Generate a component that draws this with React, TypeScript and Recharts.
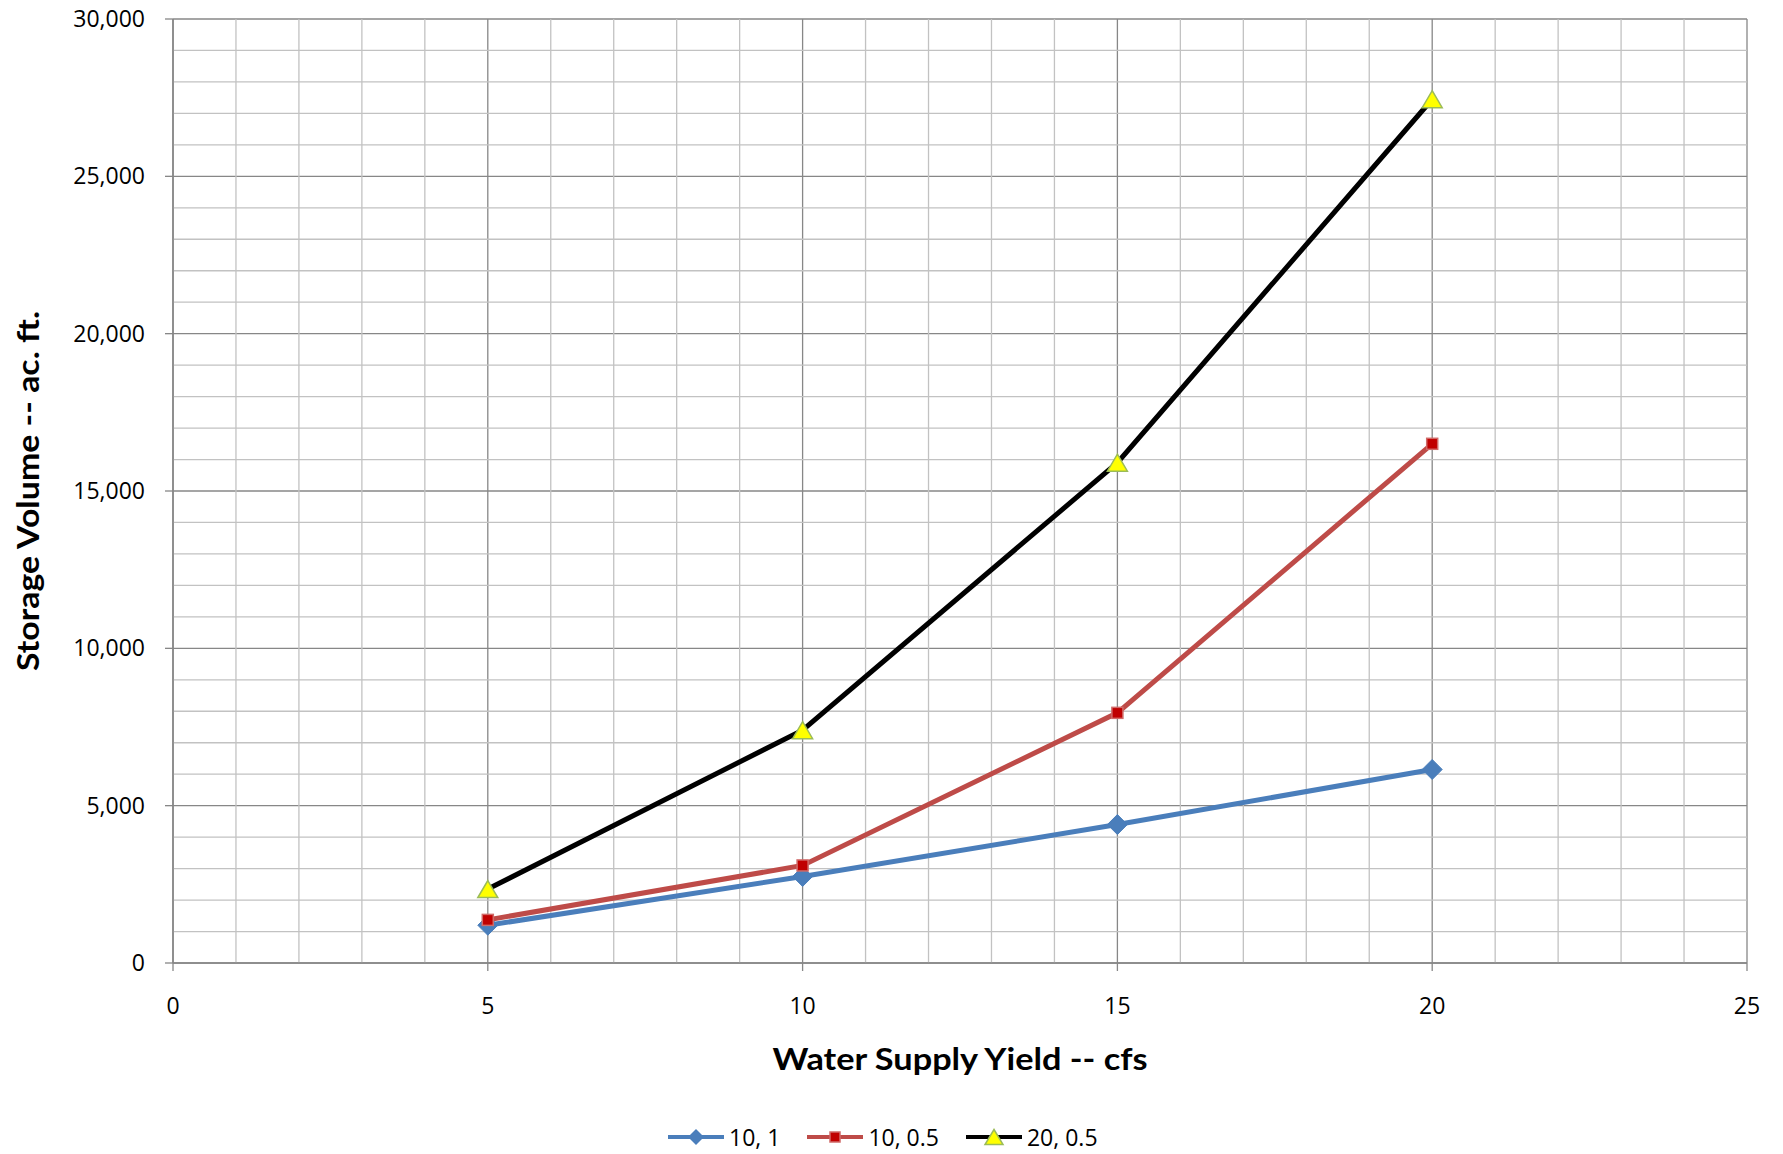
import React from 'react';
import { LineChart, Line, XAxis, YAxis, CartesianGrid, ReferenceLine, Legend } from 'recharts';

// ---- data ----
const yields = [5, 10, 15, 20];
const series101 = [1200, 2750, 4400, 6150];
const series1005 = [1370, 3100, 7950, 16500];
const series2005 = [2350, 7400, 15900, 27450];
const seriesNames = ['10, 1', '10, 0.5', '20, 0.5'];

const xTicks = [0, 5, 10, 15, 20, 25];
const yTicks = [0, 5000, 10000, 15000, 20000, 25000, 30000];
const xMinor = [1, 2, 3, 4, 6, 7, 8, 9, 11, 12, 13, 14, 16, 17, 18, 19, 21, 22, 23, 24];
const yMinor = [1000, 2000, 3000, 4000, 6000, 7000, 8000, 9000, 11000, 12000, 13000, 14000,
  16000, 17000, 18000, 19000, 21000, 22000, 23000, 24000, 26000, 27000, 28000, 29000];

const xTitle = 'Water Supply Yield -- cfs';
const yTitle = 'Storage Volume -- ac. ft.';

const data = yields.map((x, i) => ({ x, a: series101[i], b: series1005[i], c: series2005[i] }));

const BLUE = '#4a7ebb';
const RED = '#be4b48';
const BLACK = '#000000';
const MAJOR = '#878787';
const MINOR = '#c2c2c2';
const TICK_FONT = '"Open Sans", sans-serif';
const TITLE_FONT = 'Lato, sans-serif';

const diamondPath = (cx: number, cy: number, r: number) =>
  `M${cx},${cy - r}L${cx + r},${cy}L${cx},${cy + r}L${cx - r},${cy}Z`;
const trianglePath = (cx: number, cy: number, w: number, h: number) =>
  `M${cx},${cy - h / 2}L${cx + w / 2},${cy + h / 2}L${cx - w / 2},${cy + h / 2}Z`;

const DiamondDot = (p: any) => {
  if (p.cx == null || p.cy == null) return <g key={p.index} />;
  return <path key={p.index} d={diamondPath(p.cx, p.cy, 10)} fill={BLUE} stroke={BLUE} strokeWidth={1} />;
};
const SquareDot = (p: any) => {
  if (p.cx == null || p.cy == null) return <g key={p.index} />;
  return <rect key={p.index} x={p.cx - 5.5} y={p.cy - 5.5} width={11} height={11} fill="#c00000" stroke="#d06a68" strokeWidth={1.5} />;
};
const TriangleDot = (p: any) => {
  if (p.cx == null || p.cy == null) return <g key={p.index} />;
  return <path key={p.index} d={trianglePath(p.cx, p.cy, 20, 17)} fill="#ffff00" stroke="#9bbb59" strokeWidth={1.5} />;
};

const legendItems = [
  { name: seriesNames[0], color: BLUE, marker: 'diamond' },
  { name: seriesNames[1], color: RED, marker: 'square' },
  { name: seriesNames[2], color: BLACK, marker: 'triangle' },
];

const LegendContent = () => (
  <div style={{ display: 'flex', alignItems: 'center', height: 30, fontFamily: TICK_FONT, fontSize: 23, color: '#000' }}>
    {legendItems.map((it) => (
      <div key={it.name} style={{ display: 'flex', alignItems: 'center', marginRight: 27 }}>
        <svg width={56} height={30} style={{ display: 'block' }}>
          <line x1={0} y1={15} x2={56} y2={15} stroke={it.color} strokeWidth={4} />
          {it.marker === 'diamond' && <path d={diamondPath(28, 15, 8)} fill={BLUE} />}
          {it.marker === 'square' && <rect x={23} y={10} width={10} height={10} fill="#c00000" stroke="#d06a68" strokeWidth={1.5} />}
          {it.marker === 'triangle' && <path d={trianglePath(28, 15, 18, 15)} fill="#ffff00" stroke="#9bbb59" strokeWidth={1.5} />}
        </svg>
        <span style={{ marginLeft: 5, lineHeight: '30px' }}>{it.name}</span>
      </div>
    ))}
  </div>
);

const XTitle = (props: any) => {
  const vb = props.viewBox || {};
  return (
    <text x={vb.x + vb.width / 2} y={vb.y + 107} textAnchor="middle" fontFamily={TITLE_FONT} fontWeight={700} fontSize={31}
      textLength={375} lengthAdjust="spacingAndGlyphs" fill="#000">
      {xTitle}
    </text>
  );
};
const YTitle = (props: any) => {
  const vb = props.viewBox || {};
  const x = vb.x + 39;
  const y = vb.y + vb.height / 2;
  return (
    <text x={x} y={y} transform={`rotate(-90, ${x}, ${y})`} textAnchor="middle" fontFamily={TITLE_FONT} fontWeight={700} fontSize={31}
      textLength={360} lengthAdjust="spacingAndGlyphs" fill="#000">
      {yTitle}
    </text>
  );
};

export default function App() {
  return (
    <div style={{ position: 'absolute', left: 0, top: 0, width: 1783, height: 1154, background: '#fff' }}>
      <LineChart width={1783} height={1154} data={data} margin={{ top: 19, right: 36, left: 0, bottom: 101 }}>
        {xMinor.map((v) => (
          <ReferenceLine key={'xm' + v} x={v} stroke={MINOR} strokeWidth={1.3} zIndex={-80} />
        ))}
        {yMinor.map((v) => (
          <ReferenceLine key={'ym' + v} y={v} stroke={MINOR} strokeWidth={1.3} zIndex={-80} />
        ))}
        <CartesianGrid stroke={MAJOR} strokeWidth={1.3} />
        <XAxis
          dataKey="x"
          type="number"
          domain={[0, 25]}
          ticks={xTicks}
          interval={0}
          height={60}
          tickSize={8}
          tickMargin={27}
          axisLine={{ stroke: MAJOR, strokeWidth: 1.6 }}
          tickLine={{ stroke: MAJOR, strokeWidth: 1.3 }}
          tick={{ fill: '#000', fontFamily: TICK_FONT, fontSize: 23 }}
          label={<XTitle />}
        />
        <YAxis
          type="number"
          domain={[0, 30000]}
          ticks={yTicks}
          interval={0}
          width={173}
          tickSize={8}
          tickMargin={20}
          axisLine={{ stroke: MAJOR, strokeWidth: 1.6 }}
          tickLine={{ stroke: MAJOR, strokeWidth: 1.3 }}
          tick={{ fill: '#000', fontFamily: TICK_FONT, fontSize: 23 }}
          tickFormatter={(v: number) => v.toLocaleString('en-US')}
          label={<YTitle />}
        />
        <Legend
          content={<LegendContent />}
          wrapperStyle={{ position: 'absolute', top: 1122, bottom: 'auto', left: 668, width: 'auto', height: 30 }}
        />
        <Line dataKey="a" name={seriesNames[0]} stroke={BLUE} strokeWidth={5} dot={DiamondDot} activeDot={false} isAnimationActive={false} />
        <Line dataKey="b" name={seriesNames[1]} stroke={RED} strokeWidth={5} dot={SquareDot} activeDot={false} isAnimationActive={false} />
        <Line dataKey="c" name={seriesNames[2]} stroke={BLACK} strokeWidth={5} dot={TriangleDot} activeDot={false} isAnimationActive={false} />
      </LineChart>
    </div>
  );
}
